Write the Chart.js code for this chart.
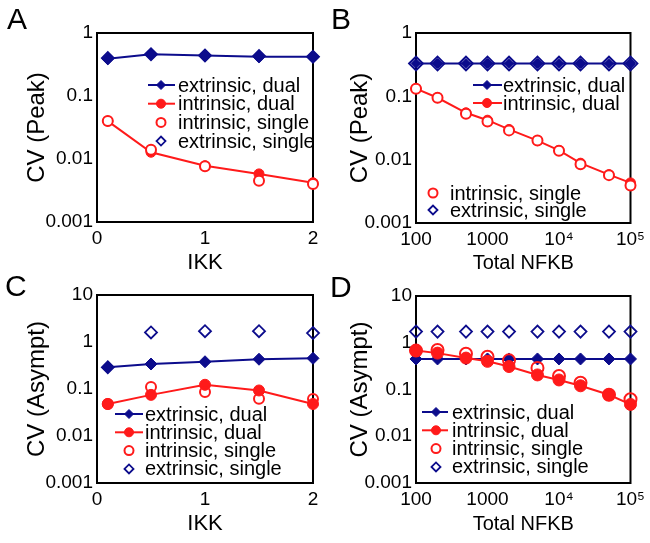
<!DOCTYPE html>
<html><head><meta charset="utf-8">
<script src="https://cdn.jsdelivr.net/npm/chart.js@4.4.1/dist/chart.umd.min.js"></script>
<style>
html,body{margin:0;padding:0;background:#fff;width:650px;height:543px;overflow:hidden;position:relative;}
.panel{position:absolute;}
.letter{position:absolute;font-family:"Liberation Sans",Arial,sans-serif;font-size:30px;line-height:1;color:#000;}
</style></head><body>
<div class="panel" id="pA" style="left:0;top:0;width:325px;height:290px"><canvas id="cA"></canvas></div>
<div class="panel" id="pB" style="left:325px;top:0;width:325px;height:290px"><canvas id="cB"></canvas></div>
<div class="panel" id="pC" style="left:0;top:270px;width:325px;height:273px"><canvas id="cC"></canvas></div>
<div class="panel" id="pD" style="left:325px;top:270px;width:325px;height:273px"><canvas id="cD"></canvas></div>
<div class="letter" style="left:7px;top:4px">A</div>
<div class="letter" style="left:331px;top:4px">B</div>
<div class="letter" style="left:5px;top:271px">C</div>
<div class="letter" style="left:330px;top:272px">D</div>
<script>
// ---------- data ----------
const ikkLevels = [0.1, 0.5, 1, 1.5, 2];
const nfkbLevels = [100, 200, 500, 1000, 2000, 5000, 10000, 20000, 50000, 100000];

const seriesNames = ['extrinsic, dual', 'intrinsic, dual', 'intrinsic, single', 'extrinsic, single'];

// Panel A: CV (Peak) vs IKK
const peakIkkExtDual    = [0.39, 0.46, 0.44, 0.42, 0.42];
const peakIkkIntDual    = [0.040, 0.0128, 0.0078, 0.0058, 0.0042];
const peakIkkIntSingle  = [0.040, 0.0140, 0.0077, 0.0045, 0.0040];
const peakIkkExtSingle  = [0.40, 0.46, 0.44, 0.43, 0.42];

// Panel B: CV (Peak) vs Total NFKB
const peakNfkbExtDual   = [0.33, 0.33, 0.33, 0.33, 0.33, 0.33, 0.33, 0.33, 0.33, 0.33];
const peakNfkbIntDual   = [0.132, 0.095, 0.055, 0.042, 0.030, 0.020, 0.014, 0.0088, 0.0058, 0.0043];
const peakNfkbIntSingle = [0.132, 0.095, 0.053, 0.040, 0.029, 0.020, 0.0138, 0.0085, 0.0057, 0.0039];
const peakNfkbExtSingle = [0.33, 0.33, 0.33, 0.33, 0.33, 0.33, 0.33, 0.33, 0.33, 0.33];

// Panel C: CV (Asympt) vs IKK
const asymIkkExtDual    = [0.29, 0.34, 0.38, 0.43, 0.45];
const asymIkkIntDual    = [0.048, 0.075, 0.123, 0.093, 0.048];
const asymIkkIntSingle  = [0.048, 0.110, 0.086, 0.062, 0.061];
const asymIkkExtSingle  = [0.29, 1.6, 1.7, 1.7, 1.55];

// Panel D: CV (Asympt) vs Total NFKB
const asymNfkbExtDual   = [0.45, 0.45, 0.45, 0.45, 0.45, 0.45, 0.45, 0.45, 0.45, 0.45];
const asymNfkbIntDual   = [0.68, 0.60, 0.47, 0.40, 0.31, 0.205, 0.16, 0.12, 0.077, 0.048];
const asymNfkbIntSingle = [0.68, 0.70, 0.58, 0.50, 0.42, 0.29, 0.195, 0.14, 0.077, 0.062];
const asymNfkbExtSingle = [1.73, 1.73, 1.73, 1.73, 1.73, 1.73, 1.73, 1.73, 1.73, 1.73];

// tick labels
const ikkTickValues = [0, 1, 2];
const ikkTickLabels = ['0', '1', '2'];
const nfkbTickValues = [100, 1000, 10000, 100000];
const nfkbTickLabels = ['100', '1000', '10\u2074', '10\u2075'];
const peakTickValues = [0.001, 0.01, 0.1, 1];
const peakTickLabels = ['0.001', '0.01', '0.1', '1'];
const asymTickValues = [0.001, 0.01, 0.1, 1, 10];
const asymTickLabels = ['0.001', '0.01', '0.1', '1', '10'];

// ---------- style ----------
const BLUE = '#0c0c8c';
const RED = '#ff1a1a';
const FAMILY = "'Liberation Sans', Arial, Helvetica, sans-serif";
Chart.defaults.font.family = FAMILY;
Chart.defaults.color = '#000';

const framePlugin = {
  id: 'frame',
  beforeDatasetsDraw(chart) {
    const a = chart.chartArea, ctx = chart.ctx;
    ctx.save();
    ctx.strokeStyle = '#000';
    ctx.lineWidth = 2;
    ctx.strokeRect(a.left, a.top, a.right - a.left, a.bottom - a.top);
    ctx.restore();
  }
};

const insideLegend = {
  id: 'insideLegend',
  afterDatasetsDraw(chart, args, opts) {
    if (!opts || !opts.groups) return;
    const ctx = chart.ctx;
    ctx.save();
    opts.groups.forEach(g => {
      g.items.forEach((di, k) => {
        const ds = chart.data.datasets[di];
        const y = g.y + k * g.step;
        if (ds.showLine !== false) {
          ctx.strokeStyle = ds.borderColor;
          ctx.lineWidth = ds.borderWidth;
          ctx.beginPath();
          ctx.moveTo(g.lineX0, y);
          ctx.lineTo(g.lineX1, y);
          ctx.stroke();
        }
        ctx.fillStyle = ds.pointBackgroundColor;
        ctx.strokeStyle = ds.pointBorderColor;
        ctx.lineWidth = ds.pointBorderWidth;
        Chart.helpers.drawPoint(ctx, {pointStyle: ds.pointStyle, radius: g.r, borderWidth: ds.pointBorderWidth, rotation: 0}, g.markerX, y);
        ctx.fillStyle = '#000';
        ctx.font = opts.font;
        ctx.textBaseline = 'middle';
        ctx.textAlign = 'left';
        ctx.fillText(ds.label, g.textX, y + 1);
      });
    });
    ctx.restore();
  }
};

function pts(xs, ys) { return xs.map((x, i) => ({x: x, y: ys[i]})); }

function makeDatasets(xs, extDual, intDual, intSingle, extSingle, r, openFill) {
  return [
    {label: seriesNames[0], data: pts(xs, extDual), borderColor: BLUE, backgroundColor: BLUE,
     pointBackgroundColor: BLUE, pointBorderColor: BLUE, pointBorderWidth: 1, pointStyle: 'rectRot',
     pointRadius: r.dia, borderWidth: 2, showLine: true, order: 3, clip: false},
    {label: seriesNames[1], data: pts(xs, intDual), borderColor: RED, backgroundColor: RED,
     pointBackgroundColor: RED, pointBorderColor: RED, pointBorderWidth: 1, pointStyle: 'circle',
     pointRadius: r.circ, borderWidth: 2, showLine: true, order: 2, clip: false},
    {label: seriesNames[2], data: pts(xs, intSingle), borderColor: RED, backgroundColor: openFill,
     pointBackgroundColor: openFill, pointBorderColor: RED, pointBorderWidth: 2, pointStyle: 'circle',
     pointRadius: r.ocirc, borderWidth: 2, showLine: false, order: 1, clip: false},
    {label: seriesNames[3], data: pts(xs, extSingle), borderColor: BLUE, backgroundColor: 'rgba(255,255,255,0)',
     pointBackgroundColor: 'rgba(255,255,255,0)', pointBorderColor: BLUE, pointBorderWidth: 1.8, pointStyle: 'rectRot',
     pointRadius: r.odia, borderWidth: 2, showLine: false, order: 0, clip: false}
  ];
}

function makeChart(id, p) {
  const ctx = document.getElementById(id);
  return new Chart(ctx, {
    type: 'line',
    data: {datasets: makeDatasets(p.xs, p.s[0], p.s[1], p.s[2], p.s[3], p.r, p.openFill)},
    options: {
      responsive: true, maintainAspectRatio: false, animation: false, events: [],
      layout: {padding: {left: 0, top: p.top, right: p.right, bottom: 0}},
      plugins: {
        legend: {display: false}, tooltip: {enabled: false},
        insideLegend: {font: '20px ' + FAMILY, groups: p.legend}
      },
      scales: {
        x: {
          type: p.xType, min: p.xMin, max: p.xMax, position: 'bottom',
          grid: {display: false, drawTicks: false}, border: {display: false},
          ticks: {font: {size: 19}, padding: 5, maxRotation: 0, autoSkip: false,
                  callback: (v, i) => p.xLabels[i]},
          afterBuildTicks: s => { s.ticks = p.xTicks.map(v => ({value: v})); },
          afterFit: s => { s.height = p.xAxisH; },
          title: {display: true, text: p.xTitle, font: {size: p.xTitleSize, lineHeight: 1}, padding: {top: 0, bottom: p.xTitlePad}}
        },
        y: {
          type: 'logarithmic', min: p.yMin, max: p.yMax, position: 'left',
          grid: {display: false, drawTicks: false}, border: {display: false},
          ticks: {font: {size: 19}, padding: 4, autoSkip: false,
                  callback: (v, i) => p.yLabels[i]},
          afterBuildTicks: s => { s.ticks = p.yTicks.map(v => ({value: v})); },
          afterFit: s => { s.width = p.yAxisW; },
          title: {display: true, text: p.yTitle, font: {size: 24, lineHeight: 1}, padding: {top: p.yTitlePad, bottom: 0}}
        }
      }
    },
    plugins: [framePlugin, insideLegend]
  });
}

// Panel A
makeChart('cA', {
  xs: ikkLevels, s: [peakIkkExtDual, peakIkkIntDual, peakIkkIntSingle, peakIkkExtSingle],
  r: {dia: 6, circ: 5, ocirc: 5, odia: 6}, openFill: '#ffffff',
  xType: 'linear', xMin: 0, xMax: 2, xTicks: ikkTickValues, xLabels: ikkTickLabels, xTitle: 'IKK', xTitleSize: 22,
  yMin: 0.001, yMax: 1, yTicks: peakTickValues, yLabels: peakTickLabels, yTitle: 'CV (Peak)',
  top: 33, right: 12, yAxisW: 97, xAxisH: 290 - 222, xTitlePad: 16, yTitlePad: 25,
  legend: [{items: [0, 1, 2, 3], y: 85, step: 18.7, lineX0: 148, lineX1: 175, markerX: 161, textX: 178, r: 4.5}]
});

// Panel B
makeChart('cB', {
  xs: nfkbLevels, s: [peakNfkbExtDual, peakNfkbIntDual, peakNfkbIntSingle, peakNfkbExtSingle],
  r: {dia: 5, circ: 5, ocirc: 5, odia: 7}, openFill: '#ffffff',
  xType: 'logarithmic', xMin: 100, xMax: 100000, xTicks: nfkbTickValues, xLabels: nfkbTickLabels, xTitle: 'Total NFKB', xTitleSize: 20,
  yMin: 0.001, yMax: 1, yTicks: peakTickValues, yLabels: peakTickLabels, yTitle: 'CV (Peak)',
  top: 33, right: 18, yAxisW: 91, xAxisH: 290 - 223, xTitlePad: 17, yTitlePad: 23,
  legend: [
    {items: [0, 1], y: 85, step: 18, lineX0: 148, lineX1: 177, markerX: 162, textX: 178, r: 4.5},
    {items: [2, 3], y: 193, step: 17, lineX0: 0, lineX1: 0, markerX: 108, textX: 125, r: 4.5}
  ]
});

// Panel C
makeChart('cC', {
  xs: ikkLevels, s: [asymIkkExtDual, asymIkkIntDual, asymIkkIntSingle, asymIkkExtSingle],
  r: {dia: 6, circ: 5.5, ocirc: 5, odia: 6}, openFill: 'rgba(255,255,255,0)',
  xType: 'linear', xMin: 0, xMax: 2, xTicks: ikkTickValues, xLabels: ikkTickLabels, xTitle: 'IKK', xTitleSize: 22,
  yMin: 0.001, yMax: 10, yTicks: asymTickValues, yLabels: asymTickLabels, yTitle: 'CV (Asympt)',
  top: 25, right: 12, yAxisW: 97, xAxisH: 273 - 213, xTitlePad: 8, yTitlePad: 25,
  legend: [{items: [0, 1, 2, 3], y: 144, step: 18.3, lineX0: 115, lineX1: 143, markerX: 129, textX: 145, r: 4.5}]
});

// Panel D
makeChart('cD', {
  xs: nfkbLevels, s: [asymNfkbExtDual, asymNfkbIntDual, asymNfkbIntSingle, asymNfkbExtSingle],
  r: {dia: 6, circ: 6, ocirc: 6, odia: 6}, openFill: 'rgba(255,255,255,0)',
  xType: 'logarithmic', xMin: 100, xMax: 100000, xTicks: nfkbTickValues, xLabels: nfkbTickLabels, xTitle: 'Total NFKB', xTitleSize: 20,
  yMin: 0.001, yMax: 10, yTicks: asymTickValues, yLabels: asymTickLabels, yTitle: 'CV (Asympt)',
  top: 26, right: 18, yAxisW: 91, xAxisH: 273 - 213, xTitlePad: 9, yTitlePad: 23,
  legend: [{items: [0, 1, 2, 3], y: 142, step: 18.3, lineX0: 97, lineX1: 123, markerX: 111, textX: 127, r: 4.5}]
});
</script>
</body></html>
